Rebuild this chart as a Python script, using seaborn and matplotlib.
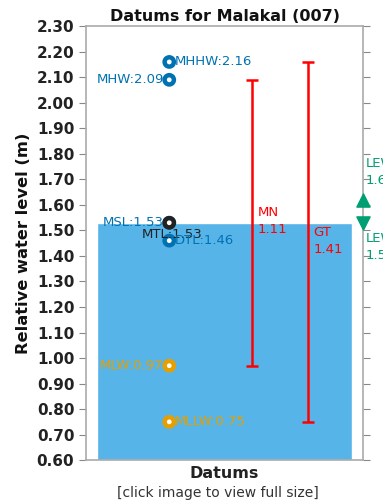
import seaborn as sns
import pandas as pd
from matplotlib import pyplot as plt

# datum levels (m)
datum_names = ["MHHW", "MHW", "MSL", "MTL", "DTL", "MLW", "MLLW"]
datum_values = [2.16, 2.09, 1.53, 1.53, 1.46, 0.97, 0.75]

# tidal ranges
range_names = ["MN", "GT"]
range_low = [0.97, 0.75]
range_high = [2.09, 2.16]
range_values = [1.11, 1.41]

# extremes on the right edge
lew_names = ["LEW", "LEW"]
lew_values = [1.62, 1.53]

y_ticks = [0.60, 0.70, 0.80, 0.90, 1.00, 1.10, 1.20, 1.30, 1.40, 1.50,
           1.60, 1.70, 1.80, 1.90, 2.00, 2.10, 2.20, 2.30]

blue = "#0072B2"
sky = "#56B4E9"
orange = "#E69F00"
green = "#009E73"

sns.set_style("ticks")
plt.rcParams["font.family"] = ["DejaVu Sans"]

fig = plt.figure(figsize=(3.83, 5.04), dpi=100)
ax = fig.add_axes([0.225, 0.087, 0.723, 0.861])

# water bar from bottom up to MSL
msl = datum_values[datum_names.index("MSL")]
ax.bar([0.5], [msl - y_ticks[0]], bottom=y_ticks[0], width=0.92,
       color=sky, zorder=1)

df = pd.DataFrame({"name": datum_names, "value": datum_values})
df["x"] = 0.30
colors = {"MHHW": blue, "MHW": blue, "MSL": blue, "MTL": "#222222",
          "DTL": blue, "MLW": orange, "MLLW": orange}
draw_order = ["MHHW", "MHW", "MSL", "DTL", "MLW", "MLLW", "MTL"]
df["order"] = df["name"].map(draw_order.index)
df = df.sort_values("order")
sns.scatterplot(data=df, x="x", y="value", hue="name",
                palette=colors, s=45, marker="o",
                linewidth=3.2, legend=False, ax=ax, zorder=3)
pts = ax.collections[-1]
pts.set_facecolor("white")
pts.set_edgecolor([colors[n] for n in df["name"]])

# labels: side of marker
label_pos = {"MHHW": ("left", 0.02, 0.0), "MHW": ("right", -0.02, 0.0),
             "MSL": ("right", -0.02, 0.0), "MTL": ("center", 0.01, -0.045),
             "DTL": ("left", 0.02, 0.0), "MLW": ("right", -0.02, 0.0),
             "MLLW": ("left", 0.02, 0.0)}
for n, v in zip(datum_names, datum_values):
    ha, dx, dy = label_pos[n]
    ax.text(0.30 + dx, v + dy, f"{n}:{v:.2f}", ha=ha, va="center",
            fontsize=9.5, color=colors[n], zorder=4)

# ranges
range_x = [0.60, 0.80]
range_label_y = [msl + 0.005, msl - 0.07]
for x, n, lo, hi, r, ly in zip(range_x, range_names, range_low, range_high,
                               range_values, range_label_y):
    ax.errorbar([x], [(lo + hi) / 2], yerr=[[(hi - lo) / 2]], fmt="none",
                ecolor="red", elinewidth=1.8, capsize=4, capthick=1.8,
                zorder=3)
    ax.text(x + 0.02, ly, f"{n}\n{r:.2f}", ha="left", va="center",
            color="red", fontsize=9.5, linespacing=1.4, zorder=4)

# extremes at the right spine
ax.scatter([1.0], [lew_values[0]], marker="^", s=90, color=green,
           clip_on=False, zorder=5)
ax.scatter([1.0], [lew_values[1]], marker="v", s=90, color=green,
           clip_on=False, zorder=5)
ax.text(1.01, lew_values[0] + 0.05, f"{lew_names[0]}\n{lew_values[0]:.2f}",
        ha="left", va="bottom", color=green, fontsize=9.5, linespacing=1.4)
ax.text(1.01, lew_values[1] - 0.035, f"{lew_names[1]}\n{lew_values[1]:.2f}",
        ha="left", va="top", color=green, fontsize=9.5, linespacing=1.4)

ax.set_xlim(0, 1)
ax.set_ylim(0.60, 2.30)
ax.set_yticks(y_ticks)
ax.set_yticklabels([f"{t:.2f}" for t in y_ticks], fontsize=11,
                   fontweight="bold", color="#222222")
ax.set_xticks([])
ax.tick_params(axis="y", which="both", right=True, left=True,
               direction="out", length=5, color="#888888")
for s in ax.spines.values():
    s.set_color("#aaaaaa")
    s.set_linewidth(1.2)

ax.set_xlabel("Datums", fontsize=11.5, fontweight="bold", color="#222222")
ax.set_ylabel("Relative water level (m)", fontsize=11.7, fontweight="bold",
              color="#111111")
ax.set_title("Datums for Malakal (007)", fontsize=11.5, fontweight="bold",
             color="#111111", pad=4)

fig.text(0.57, 0.022, "[click image to view full size]", ha="center",
         va="center", fontsize=10, color="#333333")

fig.savefig("out.png", dpi=100)
